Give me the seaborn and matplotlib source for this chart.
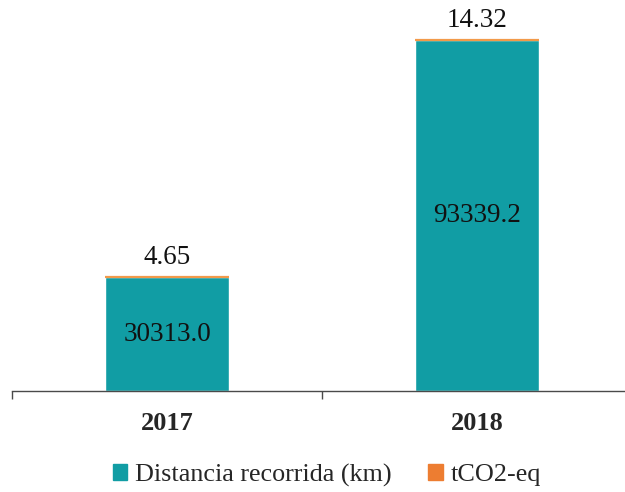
import matplotlib
matplotlib.use("Agg")
import matplotlib.pyplot as plt
from matplotlib.patches import Patch
import seaborn as sns
import pandas as pd

years = ["2017", "2018"]
distancia = [30313.0, 93339.2]
tco2 = [4.65, 14.32]
series_names = ["Distancia recorrida (km)", "tCO2-eq"]

teal = "#119DA4"
orange = "#ED7D31"

sns.set_theme(style="white")
plt.rcParams["font.family"] = ["Liberation Serif", "DejaVu Serif"]

df = pd.DataFrame({"year": years, "dist": distancia, "tco2": tco2})

fig = plt.figure(figsize=(6.25, 4.92), dpi=100)
ax = fig.add_axes([12/625, 101/492, 620/625, 391/492])

sns.barplot(data=df, x="year", y="dist", color=teal, width=0.4,
            saturation=1, ax=ax)
xs = list(range(len(years)))
ax.bar(xs, df["tco2"], bottom=df["dist"], width=0.4, color=orange,
       edgecolor="#F29A4A", linewidth=1.6)

ax.set_xlim(-0.5, 1.5)
ax.set_ylim(0, 93339.2 * 391 / 351)
ax.set_xlabel("")
ax.set_ylabel("")
ax.set_yticks([])
for s in ["top", "right", "left"]:
    ax.spines[s].set_visible(False)
ax.spines["bottom"].set_color("#4a4a4a")
ax.spines["bottom"].set_linewidth(1.0)

ax.set_xticks(xs)
ax.set_xticklabels(years, fontsize=19, fontweight="bold")
ax.set_xticks([-0.5, 0.5, 1.5], minor=True)
ax.tick_params(axis="x", which="major", length=0, pad=15)
ax.tick_params(axis="x", which="minor", length=6, width=1.0,
               color="#4a4a4a", direction="out", bottom=True)

for x, d, t in zip(xs, distancia, tco2):
    ax.text(x, d / 2, f"{d:.1f}", ha="center", va="center", fontsize=19.5,
            color="#111111")
    ax.annotate(f"{t:.2f}", xy=(x, d + t), xytext=(0, 13),
                textcoords="offset pixels", ha="center", va="baseline",
                fontsize=19.5, color="#111111")

handles = [Patch(facecolor=teal, edgecolor=teal),
           Patch(facecolor=orange, edgecolor=orange)]
fig.legend(handles, series_names, loc="center", bbox_to_anchor=(0.523, 0.034),
           ncol=2, frameon=False, fontsize=18.8, handlelength=0.55,
           handleheight=0.55, handletextpad=0.3, columnspacing=1.4)

fig.savefig("out.png", dpi=100)
